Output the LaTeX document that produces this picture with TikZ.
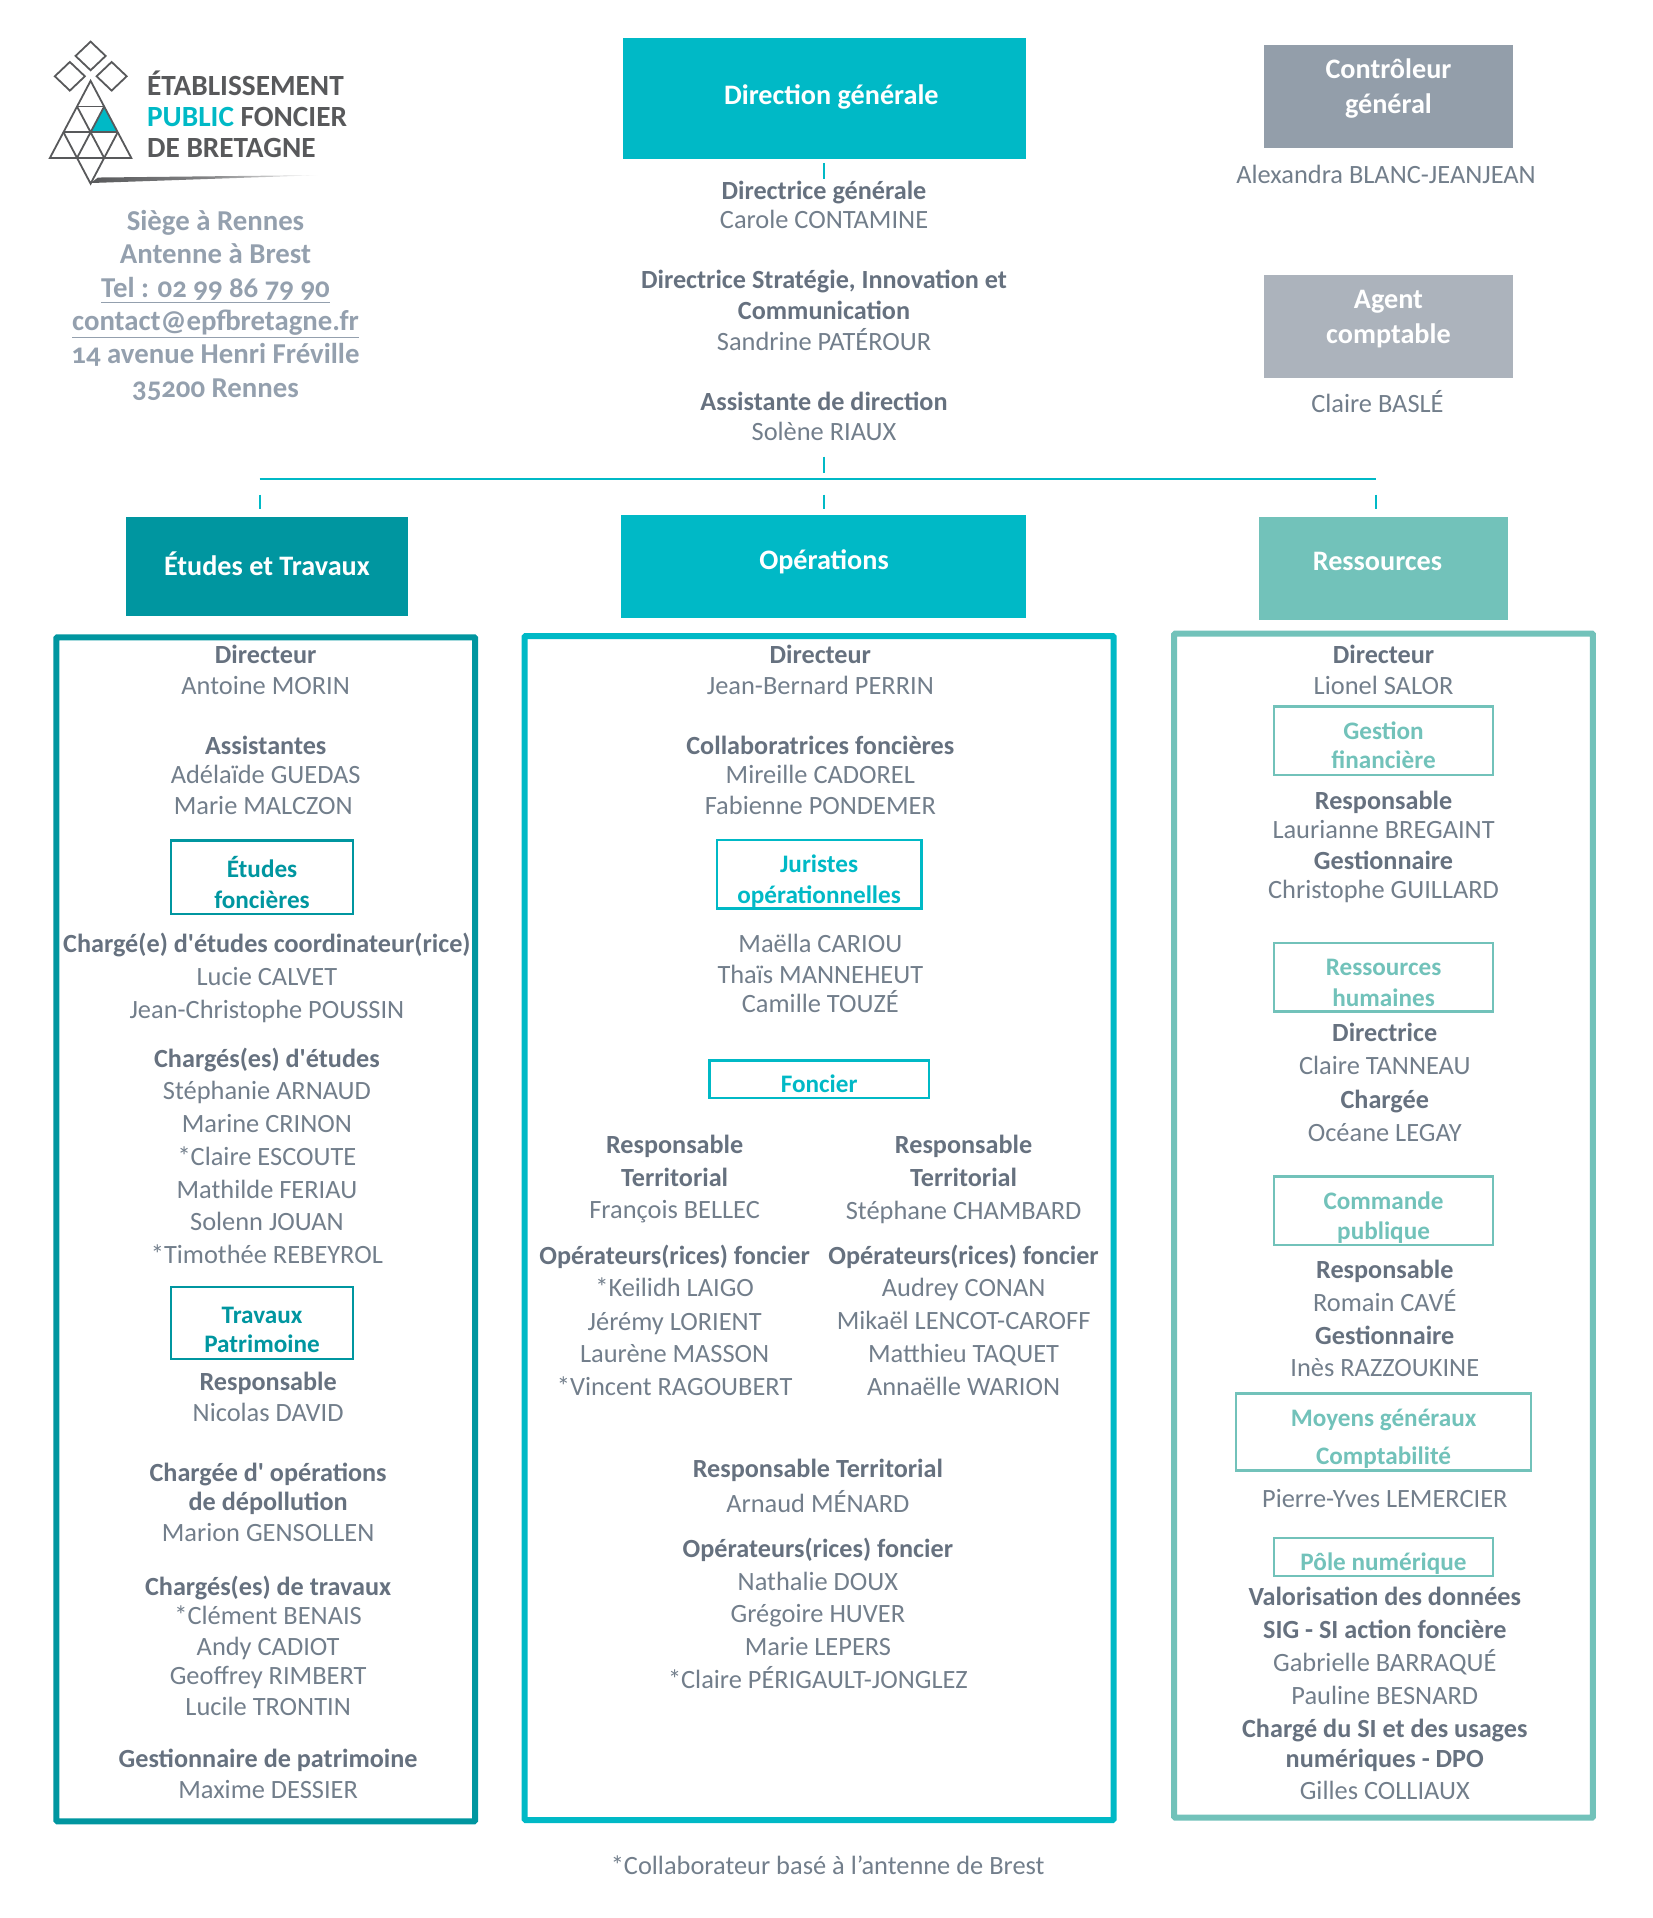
\documentclass[tikz,border=0pt]{standalone}
\usepackage{fontspec}
\setmainfont{Carlito}
\newfontfamily\oldnum[Numbers=OldStyle]{Carlito}
\usetikzlibrary{positioning,calc}
\definecolor{DirCol}{HTML}{00B9C6}
\definecolor{EtCol}{HTML}{0096A0}
\definecolor{ResCol}{HTML}{72C2BA}
\definecolor{CtrlCol}{HTML}{939EAA}
\definecolor{AgCol}{HTML}{ACB3BC}
\definecolor{BoldCol}{HTML}{66717F}
\definecolor{NameCol}{HTML}{727E8B}
\definecolor{SiegeCol}{HTML}{94A0AE}
\definecolor{LogoCol}{HTML}{58595B}
\def\uu{1.2244pt}
\tikzset{
	wh/.style 2 args={minimum width=#1*\uu,minimum height=#2*\uu,inner sep=0pt,outer sep=0pt},
	head/.style={fill=#1,draw=none},
	frame/.style={draw=#1,line width=6pt,rounded corners=1pt},
	subbox/.style={draw=#1,line width=2.4pt},
	txt/.style={inner sep=0pt,text height=21pt,text depth=4pt,font=\fontsize{26.4}{28}\selectfont},
	ti/.style={txt,text=BoldCol,font=\fontsize{26.2}{28}\selectfont\bfseries},
	na/.style={txt,text=NameCol},
	headtxt/.style={txt,text=white,font=\fontsize{28.2}{30}\selectfont\bfseries},
	subtxt/.style={txt,text=#1,font=\fontsize{25.2}{28}\selectfont\bfseries},
	siege/.style={txt,text=SiegeCol,font=\fontsize{28.8}{30}\selectfont\bfseries\oldnum},
	logotxt/.style={txt,anchor=west,text=LogoCol,font=\fontsize{29.3}{30}\selectfont\bfseries},
	link/.style={draw=DirCol,line width=2pt}
}
\begin{document}
\begin{tikzpicture}[x=\uu,y=\uu]
	\useasboundingbox (0,0) rectangle (1350,-1566.5);
	% logo
	\begin{scope}[shift={(74,-66)},x=11.08*\uu,y=21*\uu,draw=LogoCol,line width=1.8pt]
		\fill [DirCol] (1,-1) -- (0,-2) -- (2,-2) -- cycle;
		\foreach \dx/\dy in {0/0.967,-1.53/0.176,1.55/0.176}
			\draw (\dx-1.11,\dy) -- (\dx,\dy+.557) -- (\dx+1.11,\dy) -- (\dx,\dy-.557) -- cycle;
		\draw (0,0) -- (-3,-3) -- (3,-3) -- cycle;
		\draw (-1,-1) -- (1,-1) (-2,-2) -- (2,-2);
		\draw (1,-1) -- (-1,-3) -- (0,-4) -- (1,-3) -- (-1,-1);
		\draw (2,-2) -- (1,-3) (-2,-2) -- (-1,-3);
	\end{scope}
	\shade [left color=LogoCol,right color=white,middle color=LogoCol!75] (74,-149.5) -- (80,-145) -- (262,-143) -- cycle;
	\node [logotxt] (LogoA) at (120,-71) {ÉTABLISSEMENT};
	\node [logotxt] (LogoB) at (120,-96) {\textcolor{DirCol}{PUBLIC} FONCIER};
	\node [logotxt] (LogoC) at (120,-122) {DE BRETAGNE};
	% siege
	\node [siege] (SiegeA) at (176,-181) {Siège à Rennes};
	\node [siege] (SiegeB) at (176,-208) {Antenne à Brest};
	\node [siege] (SiegeC) at (176,-236) {\underline{Tel : 02 99 86 79 90}};
	\node [siege] (SiegeD) at (176,-263) {\underline{contact@epfbretagne.fr}};
	\node [siege] (SiegeE) at (176,-290) {14 avenue Henri Fréville};
	\node [siege] (SiegeF) at (176,-318) {35200 Rennes};
	% direction
	\node [head=DirCol,wh={329}{99}] (Dir) at (673.5,-80.5) {};
	\node [headtxt] (DirT) at (679,-78) {Direction générale};
	\node [ti] (DirA) at (673,-156) {Directrice générale};
	\node [na] (DirB) at (673,-180) {Carole CONTAMINE};
	\node [ti] (DirC) at (673,-229) {Directrice Stratégie, Innovation et};
	\node [ti] (DirD) at (673,-254) {Communication};
	\node [na] (DirE) at (673,-279) {Sandrine PATÉROUR};
	\node [ti] (DirF) at (673,-328) {Assistante de direction};
	\node [na] (DirG) at (673,-353) {Solène RIAUX};
	% controleur, agent
	\node [head=CtrlCol,wh={204}{84}] (Ctrl) at (1134,-79) {};
	\node [headtxt] (CtrlA) at (1134,-57) {Contrôleur};
	\node [headtxt] (CtrlB) at (1134,-86) {général};
	\node [na] (CtrlC) at (1132,-143) {Alexandra BLANC-JEANJEAN};
	\node [head=AgCol,wh={204}{84}] (Ag) at (1134,-267) {};
	\node [headtxt] (AgA) at (1134,-245) {Agent};
	\node [headtxt] (AgB) at (1134,-274) {comptable};
	\node [na] (AgC) at (1125,-330) {Claire BASLÉ};
	% links
	\coordinate (DirTick) at (673,-133);
	\coordinate (DirTickEnd) at (673,-146);
	\coordinate (DirLow) at (673,-373);
	\coordinate (DirLowEnd) at (673,-386);
	\coordinate (BarL) at (212,-391);
	\coordinate (BarR) at (1124,-391);
	\draw [link] (DirTick) -- (DirTickEnd);
	\draw [link] (DirLow) -- (DirLowEnd);
	\draw [link] (BarL) -- (BarR);
	\foreach \x in {212,673,1124}
		\draw [link] (\x,-404) -- (\x,-416);
	% etudes et travaux
	\node [head=EtCol,wh={230}{81}] (Et) at (218,-462.5) {};
	\node [headtxt] (EtT) at (218,-463) {Études et Travaux};
	\node [frame=EtCol,wh={342}{967}] (EtFrame) at (217,-1004) {};
	\node [ti] (EtA) at (217,-535) {Directeur};
	\node [na] (EtB) at (217,-560) {Antoine MORIN};
	\node [ti] (EtC) at (217,-609) {Assistantes};
	\node [na] (EtD) at (217,-633) {Adélaïde GUEDAS};
	\node [na] (EtE) at (215,-658) {Marie MALCZON};
	\node [subbox=EtCol,wh={149}{60}] (EtF) at (214,-716.5) {};
	\node [subtxt=EtCol] (EtFa) at (214,-710) {Études};
	\node [subtxt=EtCol] (EtFb) at (214,-735) {foncières};
	\node [ti] (EtG) at (218,-771) {Chargé(e) d\textquotesingle études coordinateur(rice)};
	\node [na] (EtH) at (218,-798) {Lucie CALVET};
	\node [na] (EtI) at (218,-825) {Jean-Christophe POUSSIN};
	\node [ti] (EtJ) at (218,-865) {Chargés(es) d\textquotesingle études};
	\node [na] (EtK) at (218,-891) {Stéphanie ARNAUD};
	\node [na] (EtL) at (218,-918) {Marine CRINON};
	\node [na] (EtM) at (218,-945) {*Claire ESCOUTE};
	\node [na] (EtN) at (218,-972) {Mathilde FERIAU};
	\node [na] (EtO) at (218,-998) {Solenn JOUAN};
	\node [na] (EtP) at (218,-1025) {*Timothée REBEYROL};
	\node [subbox=EtCol,wh={149}{59}] (EtQ) at (214,-1080.5) {};
	\node [subtxt=EtCol] (EtQa) at (214,-1074) {Travaux};
	\node [subtxt=EtCol] (EtQb) at (214,-1098) {Patrimoine};
	\node [ti] (EtR) at (219,-1129) {Responsable};
	\node [na] (EtS) at (219,-1154) {Nicolas DAVID};
	\node [ti] (EtT2) at (219,-1203) {Chargée d\textquotesingle{} opérations};
	\node [ti] (EtU) at (219,-1227) {de dépollution};
	\node [na] (EtV) at (219,-1252) {Marion GENSOLLEN};
	\node [ti] (EtW) at (219,-1296) {Chargés(es) de travaux};
	\node [na] (EtX) at (219,-1320) {*Clément BENAIS};
	\node [na] (EtY) at (219,-1345) {Andy CADIOT};
	\node [na] (EtZ) at (219,-1369) {Geoffrey RIMBERT};
	\node [na] (EtAa) at (219,-1394) {Lucile TRONTIN};
	\node [ti] (EtAb) at (219,-1437) {Gestionnaire de patrimoine};
	\node [na] (EtAc) at (219,-1462) {Maxime DESSIER};
	% operations
	\node [head=DirCol,wh={331}{84}] (Op) at (672.5,-463) {};
	\node [headtxt] (OpT) at (673,-458) {Opérations};
	\node [frame=DirCol,wh={481}{967}] (OpFrame) at (669,-1003) {};
	\node [ti] (OpA) at (670,-535) {Directeur};
	\node [na] (OpB) at (670,-560) {Jean-Bernard PERRIN};
	\node [ti] (OpC) at (670,-609) {Collaboratrices foncières};
	\node [na] (OpD) at (670,-633) {Mireille CADOREL};
	\node [na] (OpE) at (670,-658) {Fabienne PONDEMER};
	\node [subbox=DirCol,wh={167}{56}] (OpF) at (669,-714) {};
	\node [subtxt=DirCol] (OpFa) at (669,-706) {Juristes};
	\node [subtxt=DirCol] (OpFb) at (669,-731) {opérationnelles};
	\node [na] (OpG) at (670,-771) {Maëlla CARIOU};
	\node [na] (OpH) at (670,-796) {Thaïs MANNEHEUT};
	\node [na] (OpI) at (670,-820) {Camille TOUZÉ};
	\node [subbox=DirCol,wh={179}{31}] (OpJ) at (669,-881.5) {};
	\node [subtxt=DirCol] (OpJa) at (669,-885) {Foncier};
	\node [ti] (PaA) at (551,-935) {Responsable};
	\node [ti] (PaB) at (551,-962) {Territorial};
	\node [na] (PaC) at (551,-988) {François BELLEC};
	\node [ti] (PaD) at (551,-1026) {Opérateurs(rices) foncier};
	\node [na] (PaE) at (551,-1052) {*Keilidh LAIGO};
	\node [na] (PaF) at (551,-1080) {Jérémy LORIENT};
	\node [na] (PaG) at (551,-1106) {Laurène MASSON};
	\node [na] (PaH) at (551,-1133) {*Vincent RAGOUBERT};
	\node [ti] (PbA) at (787,-935) {Responsable};
	\node [ti] (PbB) at (787,-962) {Territorial};
	\node [na] (PbC) at (787,-989) {Stéphane CHAMBARD};
	\node [ti] (PbD) at (787,-1026) {Opérateurs(rices) foncier};
	\node [na] (PbE) at (787,-1052) {Audrey CONAN};
	\node [na] (PbF) at (787,-1079) {Mikaël LENCOT-CAROFF};
	\node [na] (PbG) at (787,-1106) {Matthieu TAQUET};
	\node [na] (PbH) at (787,-1133) {Annaëlle WARION};
	\node [ti] (PcA) at (668,-1200) {Responsable Territorial};
	\node [na] (PcB) at (668,-1228) {Arnaud MÉNARD};
	\node [ti] (PcC) at (668,-1265) {Opérateurs(rices) foncier};
	\node [na] (PcD) at (668,-1292) {Nathalie DOUX};
	\node [na] (PcE) at (668,-1318) {Grégoire HUVER};
	\node [na] (PcF) at (668,-1345) {Marie LEPERS};
	\node [na] (PcG) at (668,-1372) {*Claire PÉRIGAULT-JONGLEZ};
	% ressources
	\node [head=ResCol,wh={204}{84}] (Res) at (1130,-464) {};
	\node [headtxt] (ResT) at (1125,-459) {Ressources};
	\node [frame=ResCol,wh={342}{967}] (ResFrame) at (1130,-1001) {};
	\node [ti] (ResA) at (1130,-535) {Directeur};
	\node [na] (ResB) at (1130,-560) {Lionel SALOR};
	\node [subbox=ResCol,wh={179}{56}] (ResC) at (1130,-605) {};
	\node [subtxt=ResCol] (ResCa) at (1130,-597) {Gestion};
	\node [subtxt=ResCol] (ResCb) at (1130,-621) {financière};
	\node [ti] (ResD) at (1130,-654) {Responsable};
	\node [na] (ResE) at (1130,-678) {Laurianne BREGAINT};
	\node [ti] (ResF) at (1130,-703) {Gestionnaire};
	\node [na] (ResG) at (1130,-727) {Christophe GUILLARD};
	\node [subbox=ResCol,wh={179}{56}] (ResH) at (1130,-798) {};
	\node [subtxt=ResCol] (ResHa) at (1130,-790) {Ressources};
	\node [subtxt=ResCol] (ResHb) at (1130,-815) {humaines};
	\node [ti] (ResI) at (1131,-844) {Directrice};
	\node [na] (ResJ) at (1131,-871) {Claire TANNEAU};
	\node [ti] (ResK) at (1131,-898) {Chargée};
	\node [na] (ResL) at (1131,-925) {Océane LEGAY};
	\node [subbox=ResCol,wh={179}{56}] (ResM) at (1130,-989) {};
	\node [subtxt=ResCol] (ResMa) at (1130,-981) {Commande};
	\node [subtxt=ResCol] (ResMb) at (1130,-1005) {publique};
	\node [ti] (ResN) at (1131,-1037) {Responsable};
	\node [na] (ResO) at (1131,-1064) {Romain CAVÉ};
	\node [ti] (ResP) at (1131,-1091) {Gestionnaire};
	\node [na] (ResQ) at (1131,-1117) {Inès RAZZOUKINE};
	\node [subbox=ResCol,wh={241}{63}] (ResR) at (1130,-1169.5) {};
	\node [subtxt=ResCol] (ResRa) at (1130,-1158) {Moyens généraux};
	\node [subtxt=ResCol] (ResRb) at (1130,-1189) {Comptabilité};
	\node [na] (ResS) at (1131,-1224) {Pierre-Yves LEMERCIER};
	\node [subbox=ResCol,wh={179}{31}] (ResU) at (1130,-1271.5) {};
	\node [subtxt=ResCol] (ResUa) at (1130,-1276) {Pôle numérique};
	\node [ti] (ResV) at (1131,-1304) {Valorisation des données};
	\node [ti] (ResW) at (1131,-1331) {SIG - SI action foncière};
	\node [na] (ResX) at (1131,-1358) {Gabrielle BARRAQUÉ};
	\node [na] (ResY) at (1131,-1385) {Pauline BESNARD};
	\node [ti] (ResZ) at (1131,-1412) {Chargé du SI et des usages};
	\node [ti] (ResAa) at (1131,-1437) {numériques - DPO};
	\node [na] (ResAb) at (1131,-1463) {Gilles COLLIAUX};
	% footnote
	\node [na] (Foot) at (676,-1524) {*Collaborateur basé à l’antenne de Brest};
\end{tikzpicture}
\end{document}
